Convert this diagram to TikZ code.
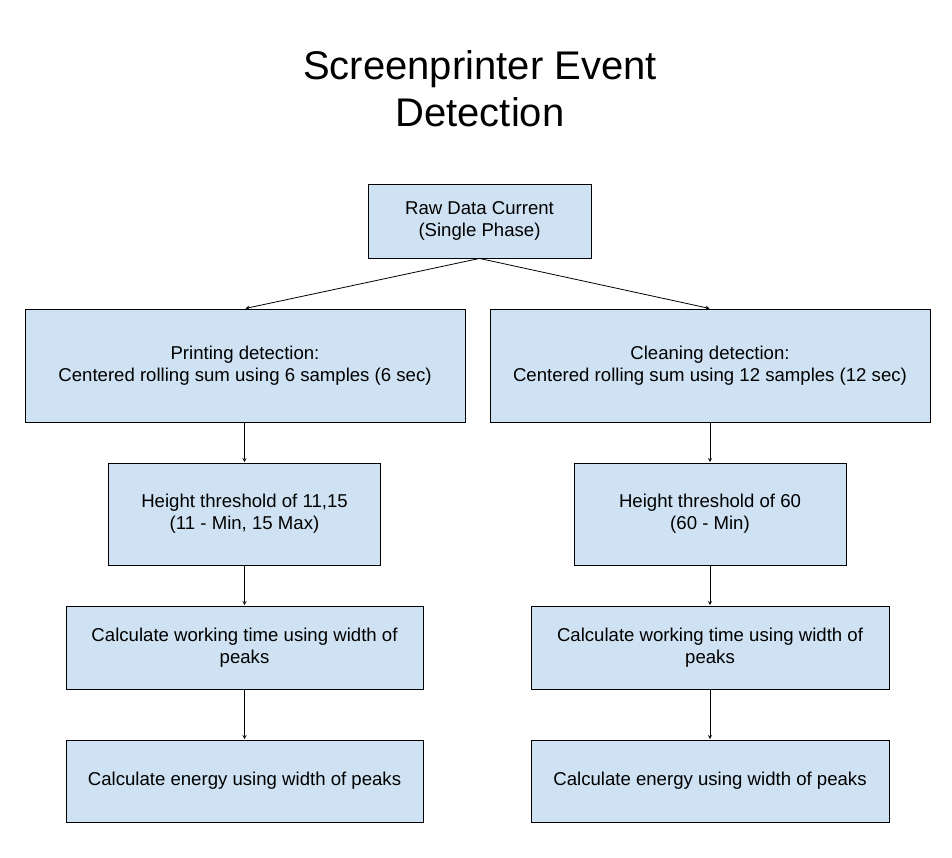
\documentclass[tikz,border=0pt]{standalone}
\usepackage{fontspec}
\setmainfont{Liberation Sans}
\usetikzlibrary{arrows}

\definecolor{boxblue}{HTML}{CFE2F3}

\begin{document}
\begin{tikzpicture}[x=1pt, y=-1pt,
      stepbox/.style={
        rectangle,
        draw,
        fill=boxblue,
        line width=0.9pt,
        inner sep=0pt,
        align=center,
        font=\fontsize{18.6}{22}\selectfont
      },
      >=stealth,
      link/.style={->, line width=0.8pt, shorten >=0.5pt}]
    \useasboundingbox (0,0) rectangle (952,858);
    \node[align=center, font=\fontsize{40}{47}\selectfont] (title) at (480,89) {Screenprinter Event\\Detection};
    \node[stepbox, minimum width=223pt, minimum height=74pt] (raw) at (479.5,221) {Raw Data Current\\(Single Phase)};
    \node[stepbox, minimum width=440pt, minimum height=113pt] (print) at (245,365.5) {Printing detection:\\Centered rolling sum using 6 samples (6 sec)};
    \node[stepbox, minimum width=440pt, minimum height=113pt] (clean) at (710,365.5) {Cleaning detection:\\Centered rolling sum using 12 samples (12 sec)};
    \node[stepbox, minimum width=272pt, minimum height=102pt] (hleft) at (244.5,514) {Height threshold of 11,15\\(11 - Min, 15 Max)};
    \node[stepbox, minimum width=272pt, minimum height=102pt] (hright) at (710,514) {Height threshold of 60\\(60 - Min)};
    \node[stepbox, minimum width=357pt, minimum height=83pt] (wleft) at (244.5,647.5) {Calculate working time using width of\\peaks};
    \node[stepbox, minimum width=358pt, minimum height=83pt] (wright) at (710,647.5) {Calculate working time using width of\\peaks};
    \node[stepbox, minimum width=357pt, minimum height=82pt] (eleft) at (244.5,781) {Calculate energy using width of peaks};
    \node[stepbox, minimum width=358pt, minimum height=82pt] (eright) at (710,781) {Calculate energy using width of peaks};
    \draw[link] (raw.south) -- (print.north);
    \draw[link] (raw.south) -- (clean.north);
    \draw[link] (hleft.north |- print.south) -- (hleft.north);
    \draw[link] (clean.south) -- (hright.north);
    \draw[link] (hleft.south) -- (wleft.north);
    \draw[link] (hright.south) -- (wright.north);
    \draw[link] (wleft.south) -- (eleft.north);
    \draw[link] (wright.south) -- (eright.north);
  \end{tikzpicture}
\end{document}
